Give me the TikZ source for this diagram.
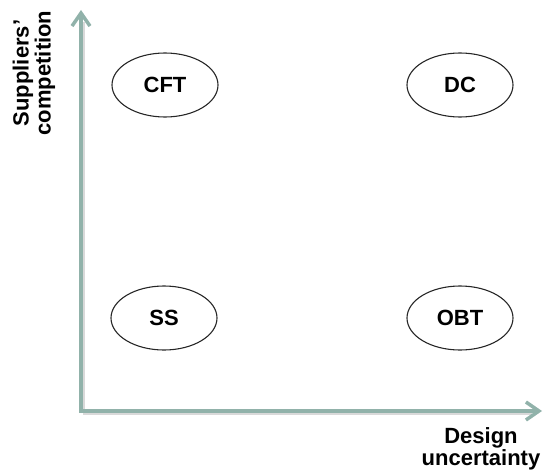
\documentclass[tikz,border=0pt]{standalone}
\usepackage{fontspec}
\setmainfont{Liberation Sans}
\usetikzlibrary{arrows.meta,shapes.geometric}
\definecolor{axiscol}{RGB}{145,178,170}
\tikzset{
  quad/.style={ellipse,draw=black!85,line width=1.1pt,minimum width=106pt,minimum height=64pt,inner sep=0pt,font=\fontsize{22}{23}\selectfont\bfseries},
  axisline/.style={draw=axiscol,line width=3.5pt,-{Straight Barb[length=13pt,width=18pt]}},
  axisshadow/.style={draw=black!25,opacity=0.6,line width=3.5pt},
  axislabel/.style={align=center,font=\fontsize{22}{22}\selectfont\bfseries,inner sep=0pt}
}
\begin{document}
\begin{tikzpicture}[x=1pt,y=1pt]
\useasboundingbox (0,0) rectangle (543,475);
% axes
\coordinate (O) at (81,64);
\coordinate (Ytip) at (81,465);
\coordinate (Xtip) at (542,64);
\draw[axisshadow] ([shift={(2,-2)}]O) -- ([shift={(2,-2)}]81,455);
\draw[axisshadow] ([shift={(2,-2)}]O) -- ([shift={(2,-2)}]530,64);
\draw[axisline] ([yshift=-1.75pt]O) -- (Ytip);
\draw[axisline] ([xshift=-1.75pt]O) -- (Xtip);
% quadrant nodes
\node[quad] (CFT) at (165,390) {CFT};
\node[quad] (DC) at (460,390) {DC};
\node[quad] (SS) at (164,157) {SS};
\node[quad] (OBT) at (460,157) {OBT};
% labels
\node[axislabel,anchor=base,rotate=90] (ylab) at (50.5,402) {Suppliers'\\competition};
\node[axislabel,anchor=base] (xlab) at (481,10) {Design\\uncertainty};
\end{tikzpicture}
\end{document}
